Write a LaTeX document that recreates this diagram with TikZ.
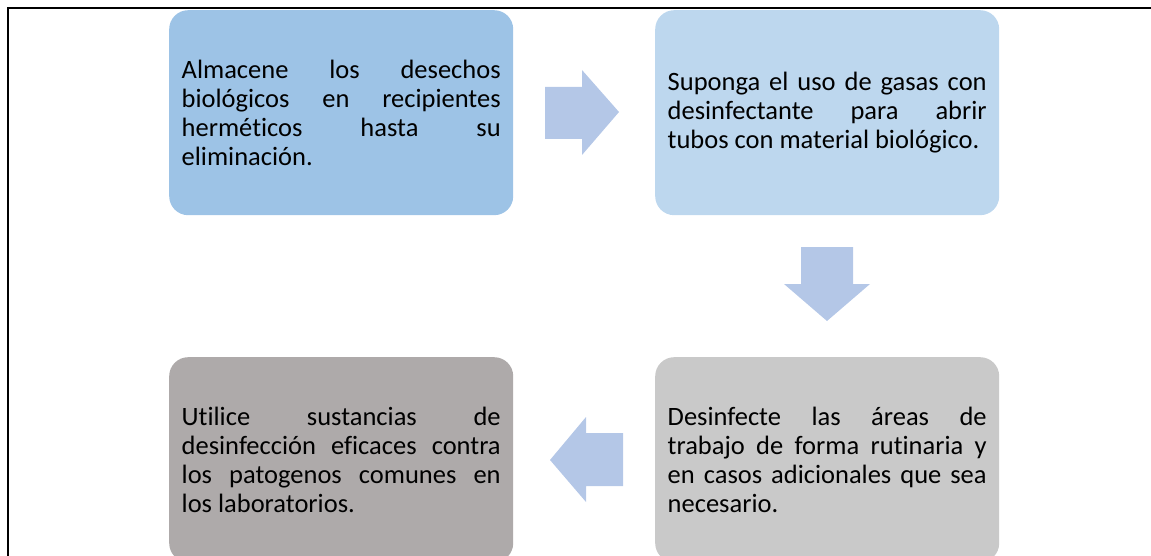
\documentclass[tikz,border=0pt]{standalone}
\usepackage{fontspec}
\setmainfont[Ligatures={NoCommon}]{Carlito}
\definecolor{boxA}{RGB}{157,195,230}
\definecolor{boxB}{RGB}{189,215,238}
\definecolor{boxC}{RGB}{201,201,201}
\definecolor{boxD}{RGB}{174,170,170}
\definecolor{arrowfill}{RGB}{180,199,231}
\begin{document}
\begin{tikzpicture}[x=1pt,y=-1pt,
  stepbox/.style={rounded corners=19pt, minimum width=344pt, minimum height=205pt,
    text width=319pt, align=justify, inner sep=0pt, anchor=north west,
    font=\fontsize{26.5}{29}\selectfont},
  blockarrow/.style={fill=arrowfill, draw=none},
  frame/.style={line width=1.6pt, black}]
\useasboundingbox (0,0) rectangle (1151,556);
\clip (0,0) rectangle (1151,556);
\draw[frame] (8,556) -- (8,8) -- (1151,8);
\node[stepbox, fill=boxA] (b1) at (169,10) {Almacene los desechos\linebreak biológicos en recipientes\linebreak herméticos hasta su\linebreak eliminación.};
\node[stepbox, fill=boxB] (b2) at (655,10) {Suponga el uso de gasas con\linebreak desinfectante para abrir\linebreak tubos con material biológico.};
\node[stepbox, fill=boxC] (b3) at (655,357) {Desinfecte las áreas de\linebreak trabajo de forma rutinaria y\linebreak en casos adicionales que sea\linebreak necesario.};
\node[stepbox, fill=boxD] (b4) at (169,357) {Utilice sustancias de\linebreak desinfección eficaces contra\linebreak los patogenos comunes en\linebreak los laboratorios.};
% right arrow
\fill[blockarrow] (545,87) -- (582,87) -- (582,70) -- (619,112) -- (582,155) -- (582,139) -- (545,139) -- cycle;
% down arrow
\fill[blockarrow] (801,247) -- (853,247) -- (853,284) -- (870,284) -- (827,321) -- (784,284) -- (801,284) -- cycle;
% left arrow
\fill[blockarrow] (623,433) -- (586,433) -- (586,417) -- (550,460) -- (586,502) -- (586,486) -- (623,486) -- cycle;
\end{tikzpicture}
\end{document}
